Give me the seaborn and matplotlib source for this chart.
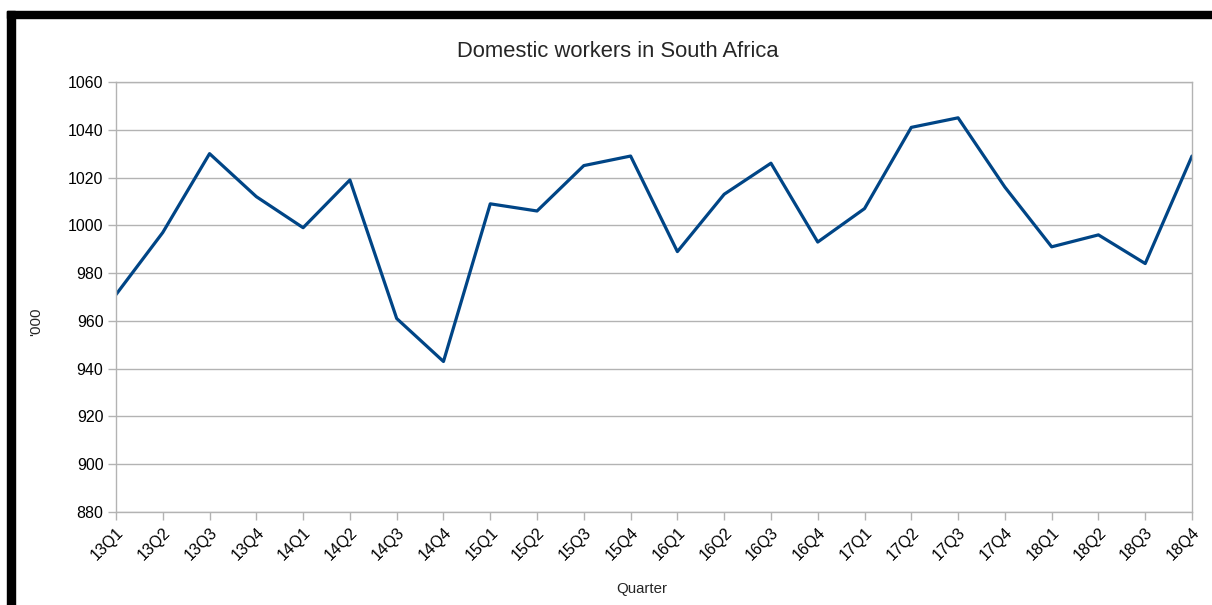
import numpy as np
import pandas as pd
import matplotlib
matplotlib.use("Agg")
import matplotlib.pyplot as plt
import seaborn as sns
from matplotlib.patches import Rectangle

quarters = ['13Q1', '13Q2', '13Q3', '13Q4', '14Q1', '14Q2', '14Q3', '14Q4',
            '15Q1', '15Q2', '15Q3', '15Q4', '16Q1', '16Q2', '16Q3', '16Q4',
            '17Q1', '17Q2', '17Q3', '17Q4', '18Q1', '18Q2', '18Q3', '18Q4']
workers = [971, 997, 1030, 1012, 999, 1019, 961, 943,
           1009, 1006, 1025, 1029, 989, 1013, 1026, 993,
           1007, 1041, 1045, 1016, 991, 996, 984, 1029]
y_ticks = [880, 900, 920, 940, 960, 980, 1000, 1020, 1040, 1060]

df = pd.DataFrame({'Quarter': quarters, 'Workers': workers})

sns.set_style('white')
plt.rcParams['font.family'] = ['Liberation Sans', 'DejaVu Sans']

fig = plt.figure(figsize=(12.12, 6.05), dpi=100)
ax = fig.add_axes([0.0957, 0.1537, 0.8878, 0.7108])

sns.lineplot(data=df, x='Quarter', y='Workers', sort=False, ax=ax,
             color='#004586', linewidth=2.3)

ax.set_xlim(0, len(quarters) - 1)
ax.set_ylim(880, 1060)
ax.set_yticks(y_ticks)
ax.set_xticks(range(len(quarters)))
ax.set_xticklabels(quarters, rotation=45, ha='right', rotation_mode='anchor')
ax.yaxis.grid(True, color='#b3b3b3', linewidth=1)
ax.xaxis.grid(False)
for s in ax.spines.values():
    s.set_color('#b3b3b3')
    s.set_linewidth(1)
ax.tick_params(axis='both', which='both', direction='out', length=6,
               color='#b3b3b3', width=1, labelsize=11.5, labelcolor='#000000')
ax.tick_params(axis='x', pad=3, bottom=True)
ax.tick_params(axis='y', pad=3, left=True)

ax.set_title('Domestic workers in South Africa', fontsize=15.8, x=0.4665, pad=18)
ax.set_xlabel('Quarter', fontsize=10.8, labelpad=14, x=0.489)
ax.set_ylabel("'000", fontsize=10.8)
ax.yaxis.set_label_coords(-0.0678, 0.442)

# black frame around the chart (page border)
fig.patches.append(Rectangle((7 / 1212, 0), 8 / 1212, 1 - 11 / 605,
                             transform=fig.transFigure, color='black', zorder=5))
fig.patches.append(Rectangle((7 / 1212, 1 - 18 / 605), 1, 7 / 605,
                             transform=fig.transFigure, color='black', zorder=5))

fig.savefig('out.png', dpi=100)
